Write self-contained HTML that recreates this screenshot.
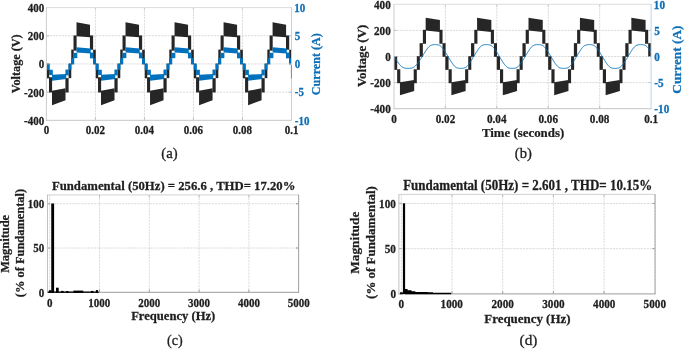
<!DOCTYPE html>
<html><head><meta charset="utf-8"><style>
html,body{margin:0;padding:0;background:#fff;}
svg{display:block;will-change:transform;}
text{font-family:"Liberation Serif", serif;}
</style></head><body>
<svg width="685" height="349" viewBox="0 0 685 349">
<rect width="685" height="349" fill="#fff"/>
<line x1="95.42" y1="7.6" x2="95.42" y2="120.3" stroke="#dcdcdc" stroke-width="1" stroke-dasharray="2.2,0.9"/>
<line x1="144.44" y1="7.6" x2="144.44" y2="120.3" stroke="#dcdcdc" stroke-width="1" stroke-dasharray="2.2,0.9"/>
<line x1="193.46" y1="7.6" x2="193.46" y2="120.3" stroke="#dcdcdc" stroke-width="1" stroke-dasharray="2.2,0.9"/>
<line x1="242.48" y1="7.6" x2="242.48" y2="120.3" stroke="#dcdcdc" stroke-width="1" stroke-dasharray="2.2,0.9"/>
<line x1="46.4" y1="35.77" x2="291.5" y2="35.77" stroke="#dcdcdc" stroke-width="1" stroke-dasharray="2.2,0.9"/>
<line x1="46.4" y1="63.95" x2="291.5" y2="63.95" stroke="#dcdcdc" stroke-width="1" stroke-dasharray="2.2,0.9"/>
<line x1="46.4" y1="92.12" x2="291.5" y2="92.12" stroke="#dcdcdc" stroke-width="1" stroke-dasharray="2.2,0.9"/>
<line x1="445.42" y1="4.3" x2="445.42" y2="108.7" stroke="#dcdcdc" stroke-width="1" stroke-dasharray="2.2,0.9"/>
<line x1="496.84" y1="4.3" x2="496.84" y2="108.7" stroke="#dcdcdc" stroke-width="1" stroke-dasharray="2.2,0.9"/>
<line x1="548.26" y1="4.3" x2="548.26" y2="108.7" stroke="#dcdcdc" stroke-width="1" stroke-dasharray="2.2,0.9"/>
<line x1="599.68" y1="4.3" x2="599.68" y2="108.7" stroke="#dcdcdc" stroke-width="1" stroke-dasharray="2.2,0.9"/>
<line x1="394" y1="30.4" x2="651.1" y2="30.4" stroke="#dcdcdc" stroke-width="1" stroke-dasharray="2.2,0.9"/>
<line x1="394" y1="56.5" x2="651.1" y2="56.5" stroke="#dcdcdc" stroke-width="1" stroke-dasharray="2.2,0.9"/>
<line x1="394" y1="82.6" x2="651.1" y2="82.6" stroke="#dcdcdc" stroke-width="1" stroke-dasharray="2.2,0.9"/>
<line x1="49.7" y1="194.9" x2="49.7" y2="292.3" stroke="#dcdcdc" stroke-width="1" stroke-dasharray="2.2,0.9"/>
<line x1="99.5" y1="194.9" x2="99.5" y2="292.3" stroke="#dcdcdc" stroke-width="1" stroke-dasharray="2.2,0.9"/>
<line x1="149.3" y1="194.9" x2="149.3" y2="292.3" stroke="#dcdcdc" stroke-width="1" stroke-dasharray="2.2,0.9"/>
<line x1="199.1" y1="194.9" x2="199.1" y2="292.3" stroke="#dcdcdc" stroke-width="1" stroke-dasharray="2.2,0.9"/>
<line x1="248.9" y1="194.9" x2="248.9" y2="292.3" stroke="#dcdcdc" stroke-width="1" stroke-dasharray="2.2,0.9"/>
<line x1="298.7" y1="194.9" x2="298.7" y2="292.3" stroke="#dcdcdc" stroke-width="1" stroke-dasharray="2.2,0.9"/>
<line x1="47.5" y1="248.03" x2="298.6" y2="248.03" stroke="#dcdcdc" stroke-width="1" stroke-dasharray="2.2,0.9"/>
<line x1="47.5" y1="203.75" x2="298.6" y2="203.75" stroke="#dcdcdc" stroke-width="1" stroke-dasharray="2.2,0.9"/>
<line x1="401.3" y1="194.4" x2="401.3" y2="293.9" stroke="#dcdcdc" stroke-width="1" stroke-dasharray="2.2,0.9"/>
<line x1="452" y1="194.4" x2="452" y2="293.9" stroke="#dcdcdc" stroke-width="1" stroke-dasharray="2.2,0.9"/>
<line x1="502.7" y1="194.4" x2="502.7" y2="293.9" stroke="#dcdcdc" stroke-width="1" stroke-dasharray="2.2,0.9"/>
<line x1="553.4" y1="194.4" x2="553.4" y2="293.9" stroke="#dcdcdc" stroke-width="1" stroke-dasharray="2.2,0.9"/>
<line x1="604.1" y1="194.4" x2="604.1" y2="293.9" stroke="#dcdcdc" stroke-width="1" stroke-dasharray="2.2,0.9"/>
<line x1="654.8" y1="194.4" x2="654.8" y2="293.9" stroke="#dcdcdc" stroke-width="1" stroke-dasharray="2.2,0.9"/>
<line x1="398.9" y1="248.67" x2="655.1" y2="248.67" stroke="#dcdcdc" stroke-width="1" stroke-dasharray="2.2,0.9"/>
<line x1="398.9" y1="203.45" x2="655.1" y2="203.45" stroke="#dcdcdc" stroke-width="1" stroke-dasharray="2.2,0.9"/>
<clipPath id="ca"><rect x="46.4" y="7.6" width="245.1" height="112.7"/></clipPath>
<g clip-path="url(#ca)">
<rect x="46.75" y="63.65" width="2.45" height="14.7" fill="#262626"/>
<rect x="49" y="77.25" width="3.1" height="15.2" fill="#262626"/>
<polygon points="52,105.15 65.51,100.35 65.51,88.35 52,90.85" fill="#262626"/>
<rect x="65.41" y="78.15" width="3.2" height="14.3" fill="#262626"/>
<rect x="68.61" y="63.65" width="2.65" height="14.5" fill="#262626"/>
<rect x="71.26" y="49.55" width="2.45" height="14.7" fill="#262626"/>
<rect x="73.51" y="35.45" width="3.1" height="15.2" fill="#262626"/>
<polygon points="76.51,22.25 90.02,24.65 90.02,37.35 76.51,36.25" fill="#262626"/>
<rect x="89.92" y="35.45" width="3.2" height="14.3" fill="#262626"/>
<rect x="93.12" y="49.75" width="2.65" height="14.5" fill="#262626"/>
<rect x="95.77" y="63.65" width="2.45" height="14.7" fill="#262626"/>
<rect x="98.02" y="77.25" width="3.1" height="15.2" fill="#262626"/>
<polygon points="101.02,105.15 114.53,100.35 114.53,88.35 101.02,90.85" fill="#262626"/>
<rect x="114.43" y="78.15" width="3.2" height="14.3" fill="#262626"/>
<rect x="117.63" y="63.65" width="2.65" height="14.5" fill="#262626"/>
<rect x="120.28" y="49.55" width="2.45" height="14.7" fill="#262626"/>
<rect x="122.53" y="35.45" width="3.1" height="15.2" fill="#262626"/>
<polygon points="125.53,22.25 139.04,24.65 139.04,37.35 125.53,36.25" fill="#262626"/>
<rect x="138.94" y="35.45" width="3.2" height="14.3" fill="#262626"/>
<rect x="142.14" y="49.75" width="2.65" height="14.5" fill="#262626"/>
<rect x="144.79" y="63.65" width="2.45" height="14.7" fill="#262626"/>
<rect x="147.04" y="77.25" width="3.1" height="15.2" fill="#262626"/>
<polygon points="150.04,105.15 163.55,100.35 163.55,88.35 150.04,90.85" fill="#262626"/>
<rect x="163.45" y="78.15" width="3.2" height="14.3" fill="#262626"/>
<rect x="166.65" y="63.65" width="2.65" height="14.5" fill="#262626"/>
<rect x="169.3" y="49.55" width="2.45" height="14.7" fill="#262626"/>
<rect x="171.55" y="35.45" width="3.1" height="15.2" fill="#262626"/>
<polygon points="174.55,22.25 188.06,24.65 188.06,37.35 174.55,36.25" fill="#262626"/>
<rect x="187.96" y="35.45" width="3.2" height="14.3" fill="#262626"/>
<rect x="191.16" y="49.75" width="2.65" height="14.5" fill="#262626"/>
<rect x="193.81" y="63.65" width="2.45" height="14.7" fill="#262626"/>
<rect x="196.06" y="77.25" width="3.1" height="15.2" fill="#262626"/>
<polygon points="199.06,105.15 212.57,100.35 212.57,88.35 199.06,90.85" fill="#262626"/>
<rect x="212.47" y="78.15" width="3.2" height="14.3" fill="#262626"/>
<rect x="215.67" y="63.65" width="2.65" height="14.5" fill="#262626"/>
<rect x="218.32" y="49.55" width="2.45" height="14.7" fill="#262626"/>
<rect x="220.57" y="35.45" width="3.1" height="15.2" fill="#262626"/>
<polygon points="223.57,22.25 237.08,24.65 237.08,37.35 223.57,36.25" fill="#262626"/>
<rect x="236.98" y="35.45" width="3.2" height="14.3" fill="#262626"/>
<rect x="240.18" y="49.75" width="2.65" height="14.5" fill="#262626"/>
<rect x="242.83" y="63.65" width="2.45" height="14.7" fill="#262626"/>
<rect x="245.08" y="77.25" width="3.1" height="15.2" fill="#262626"/>
<polygon points="248.08,105.15 261.59,100.35 261.59,88.35 248.08,90.85" fill="#262626"/>
<rect x="261.49" y="78.15" width="3.2" height="14.3" fill="#262626"/>
<rect x="264.69" y="63.65" width="2.65" height="14.5" fill="#262626"/>
<rect x="267.34" y="49.55" width="2.45" height="14.7" fill="#262626"/>
<rect x="269.59" y="35.45" width="3.1" height="15.2" fill="#262626"/>
<polygon points="272.59,22.25 286.1,24.65 286.1,37.35 272.59,36.25" fill="#262626"/>
<rect x="286" y="35.45" width="3.2" height="14.3" fill="#262626"/>
<rect x="289.2" y="49.75" width="2.65" height="14.5" fill="#262626"/>
<rect x="46.7" y="63.65" width="3" height="6.4" fill="#0072bd"/>
<rect x="49" y="69.75" width="3.8" height="5.3" fill="#0072bd"/>
<polygon points="52,80.65 66.21,78.95 66.21,73.95 52,74.85" fill="#0072bd"/>
<rect x="65.41" y="69.55" width="3.3" height="5.8" fill="#0072bd"/>
<rect x="68.51" y="63.65" width="2.9" height="6.2" fill="#0072bd"/>
<rect x="71.21" y="57.85" width="3" height="6.4" fill="#0072bd"/>
<rect x="73.51" y="52.85" width="3.8" height="5.3" fill="#0072bd"/>
<polygon points="76.51,47.25 90.72,48.5 90.72,53.4 76.51,52.45" fill="#0072bd"/>
<rect x="89.92" y="52.55" width="3.3" height="5.8" fill="#0072bd"/>
<rect x="93.02" y="58.05" width="2.9" height="6.2" fill="#0072bd"/>
<rect x="95.72" y="63.65" width="3" height="6.4" fill="#0072bd"/>
<rect x="98.02" y="69.75" width="3.8" height="5.3" fill="#0072bd"/>
<polygon points="101.02,80.65 115.23,78.95 115.23,73.95 101.02,74.85" fill="#0072bd"/>
<rect x="114.43" y="69.55" width="3.3" height="5.8" fill="#0072bd"/>
<rect x="117.53" y="63.65" width="2.9" height="6.2" fill="#0072bd"/>
<rect x="120.23" y="57.85" width="3" height="6.4" fill="#0072bd"/>
<rect x="122.53" y="52.85" width="3.8" height="5.3" fill="#0072bd"/>
<polygon points="125.53,47.25 139.74,48.5 139.74,53.4 125.53,52.45" fill="#0072bd"/>
<rect x="138.94" y="52.55" width="3.3" height="5.8" fill="#0072bd"/>
<rect x="142.04" y="58.05" width="2.9" height="6.2" fill="#0072bd"/>
<rect x="144.74" y="63.65" width="3" height="6.4" fill="#0072bd"/>
<rect x="147.04" y="69.75" width="3.8" height="5.3" fill="#0072bd"/>
<polygon points="150.04,80.65 164.25,78.95 164.25,73.95 150.04,74.85" fill="#0072bd"/>
<rect x="163.45" y="69.55" width="3.3" height="5.8" fill="#0072bd"/>
<rect x="166.55" y="63.65" width="2.9" height="6.2" fill="#0072bd"/>
<rect x="169.25" y="57.85" width="3" height="6.4" fill="#0072bd"/>
<rect x="171.55" y="52.85" width="3.8" height="5.3" fill="#0072bd"/>
<polygon points="174.55,47.25 188.76,48.5 188.76,53.4 174.55,52.45" fill="#0072bd"/>
<rect x="187.96" y="52.55" width="3.3" height="5.8" fill="#0072bd"/>
<rect x="191.06" y="58.05" width="2.9" height="6.2" fill="#0072bd"/>
<rect x="193.76" y="63.65" width="3" height="6.4" fill="#0072bd"/>
<rect x="196.06" y="69.75" width="3.8" height="5.3" fill="#0072bd"/>
<polygon points="199.06,80.65 213.27,78.95 213.27,73.95 199.06,74.85" fill="#0072bd"/>
<rect x="212.47" y="69.55" width="3.3" height="5.8" fill="#0072bd"/>
<rect x="215.57" y="63.65" width="2.9" height="6.2" fill="#0072bd"/>
<rect x="218.27" y="57.85" width="3" height="6.4" fill="#0072bd"/>
<rect x="220.57" y="52.85" width="3.8" height="5.3" fill="#0072bd"/>
<polygon points="223.57,47.25 237.78,48.5 237.78,53.4 223.57,52.45" fill="#0072bd"/>
<rect x="236.98" y="52.55" width="3.3" height="5.8" fill="#0072bd"/>
<rect x="240.08" y="58.05" width="2.9" height="6.2" fill="#0072bd"/>
<rect x="242.78" y="63.65" width="3" height="6.4" fill="#0072bd"/>
<rect x="245.08" y="69.75" width="3.8" height="5.3" fill="#0072bd"/>
<polygon points="248.08,80.65 262.29,78.95 262.29,73.95 248.08,74.85" fill="#0072bd"/>
<rect x="261.49" y="69.55" width="3.3" height="5.8" fill="#0072bd"/>
<rect x="264.59" y="63.65" width="2.9" height="6.2" fill="#0072bd"/>
<rect x="267.29" y="57.85" width="3" height="6.4" fill="#0072bd"/>
<rect x="269.59" y="52.85" width="3.8" height="5.3" fill="#0072bd"/>
<polygon points="272.59,47.25 286.8,48.5 286.8,53.4 272.59,52.45" fill="#0072bd"/>
<rect x="286" y="52.55" width="3.3" height="5.8" fill="#0072bd"/>
<rect x="289.1" y="58.05" width="2.9" height="6.2" fill="#0072bd"/>
</g>
<clipPath id="cb"><rect x="394" y="4.3" width="257.1" height="104.4"/></clipPath>
<g clip-path="url(#cb)">
<rect x="393.9" y="56.2" width="3.25" height="13.65" fill="#262626"/>
<rect x="397.15" y="69.25" width="3.15" height="13.95" fill="#262626"/>
<polygon points="399.95,95.3 414.21,91.1 414.21,80.1 399.95,82.2" fill="#262626"/>
<rect x="413.71" y="69.25" width="3.1" height="13.95" fill="#262626"/>
<rect x="416.81" y="56.2" width="3.05" height="13.65" fill="#262626"/>
<rect x="419.61" y="43.15" width="3.25" height="13.65" fill="#262626"/>
<rect x="422.86" y="29.8" width="3.15" height="13.95" fill="#262626"/>
<polygon points="425.66,17.8 439.92,20 439.92,31.9 425.66,30.6" fill="#262626"/>
<rect x="439.42" y="29.8" width="3.1" height="13.95" fill="#262626"/>
<rect x="442.52" y="43.15" width="3.05" height="13.65" fill="#262626"/>
<rect x="445.32" y="56.2" width="3.25" height="13.65" fill="#262626"/>
<rect x="448.57" y="69.25" width="3.15" height="13.95" fill="#262626"/>
<polygon points="451.37,95.3 465.63,91.1 465.63,80.1 451.37,82.2" fill="#262626"/>
<rect x="465.13" y="69.25" width="3.1" height="13.95" fill="#262626"/>
<rect x="468.23" y="56.2" width="3.05" height="13.65" fill="#262626"/>
<rect x="471.03" y="43.15" width="3.25" height="13.65" fill="#262626"/>
<rect x="474.28" y="29.8" width="3.15" height="13.95" fill="#262626"/>
<polygon points="477.08,17.8 491.34,20 491.34,31.9 477.08,30.6" fill="#262626"/>
<rect x="490.84" y="29.8" width="3.1" height="13.95" fill="#262626"/>
<rect x="493.94" y="43.15" width="3.05" height="13.65" fill="#262626"/>
<rect x="496.74" y="56.2" width="3.25" height="13.65" fill="#262626"/>
<rect x="499.99" y="69.25" width="3.15" height="13.95" fill="#262626"/>
<polygon points="502.79,95.3 517.05,91.1 517.05,80.1 502.79,82.2" fill="#262626"/>
<rect x="516.55" y="69.25" width="3.1" height="13.95" fill="#262626"/>
<rect x="519.65" y="56.2" width="3.05" height="13.65" fill="#262626"/>
<rect x="522.45" y="43.15" width="3.25" height="13.65" fill="#262626"/>
<rect x="525.7" y="29.8" width="3.15" height="13.95" fill="#262626"/>
<polygon points="528.5,17.8 542.76,20 542.76,31.9 528.5,30.6" fill="#262626"/>
<rect x="542.26" y="29.8" width="3.1" height="13.95" fill="#262626"/>
<rect x="545.36" y="43.15" width="3.05" height="13.65" fill="#262626"/>
<rect x="548.16" y="56.2" width="3.25" height="13.65" fill="#262626"/>
<rect x="551.41" y="69.25" width="3.15" height="13.95" fill="#262626"/>
<polygon points="554.21,95.3 568.47,91.1 568.47,80.1 554.21,82.2" fill="#262626"/>
<rect x="567.97" y="69.25" width="3.1" height="13.95" fill="#262626"/>
<rect x="571.07" y="56.2" width="3.05" height="13.65" fill="#262626"/>
<rect x="573.87" y="43.15" width="3.25" height="13.65" fill="#262626"/>
<rect x="577.12" y="29.8" width="3.15" height="13.95" fill="#262626"/>
<polygon points="579.92,17.8 594.18,20 594.18,31.9 579.92,30.6" fill="#262626"/>
<rect x="593.68" y="29.8" width="3.1" height="13.95" fill="#262626"/>
<rect x="596.78" y="43.15" width="3.05" height="13.65" fill="#262626"/>
<rect x="599.58" y="56.2" width="3.25" height="13.65" fill="#262626"/>
<rect x="602.83" y="69.25" width="3.15" height="13.95" fill="#262626"/>
<polygon points="605.63,95.3 619.89,91.1 619.89,80.1 605.63,82.2" fill="#262626"/>
<rect x="619.39" y="69.25" width="3.1" height="13.95" fill="#262626"/>
<rect x="622.49" y="56.2" width="3.05" height="13.65" fill="#262626"/>
<rect x="625.29" y="43.15" width="3.25" height="13.65" fill="#262626"/>
<rect x="628.54" y="29.8" width="3.15" height="13.95" fill="#262626"/>
<polygon points="631.34,17.8 645.6,20 645.6,31.9 631.34,30.6" fill="#262626"/>
<rect x="645.1" y="29.8" width="3.1" height="13.95" fill="#262626"/>
<rect x="648.2" y="43.15" width="3.05" height="13.65" fill="#262626"/>
<polyline fill="none" stroke="#0072bd" stroke-width="0.95" stroke-linejoin="round" points="394,56.5 394.37,57.06 394.73,57.62 395.1,58.18 395.47,58.73 395.84,59.28 396.2,59.83 396.57,60.37 396.94,60.9 397.31,61.43 397.67,61.94 398.04,62.45 398.41,62.95 398.77,63.43 399.14,63.9 399.51,64.36 399.88,64.8 400.24,65.21 400.61,65.6 400.98,65.97 401.35,66.3 401.71,66.61 402.08,66.89 402.45,67.13 402.81,67.35 403.18,67.54 403.55,67.7 403.92,67.83 404.28,67.95 404.65,68.05 405.02,68.13 405.39,68.2 405.75,68.25 406.12,68.3 406.49,68.34 406.86,68.36 407.22,68.38 407.59,68.4 407.96,68.4 408.32,68.4 408.69,68.4 409.06,68.38 409.43,68.36 409.79,68.34 410.16,68.3 410.53,68.26 410.9,68.2 411.26,68.14 411.63,68.06 412,67.96 412.36,67.84 412.73,67.71 413.1,67.55 413.47,67.36 413.83,67.15 414.2,66.91 414.57,66.63 414.94,66.33 415.3,65.99 415.67,65.63 416.04,65.24 416.4,64.83 416.77,64.39 417.14,63.94 417.51,63.47 417.87,62.99 418.24,62.49 418.61,61.98 418.98,61.47 419.34,60.94 419.71,60.41 420.08,59.87 420.44,59.32 420.81,58.77 421.18,58.22 421.55,57.66 421.91,57.1 422.28,56.54 422.65,55.93 423.02,55.32 423.38,54.7 423.75,54.1 424.12,53.49 424.48,52.89 424.85,52.3 425.22,51.72 425.59,51.15 425.95,50.59 426.32,50.04 426.69,49.51 427.06,48.99 427.42,48.49 427.79,48.02 428.16,47.58 428.52,47.16 428.89,46.78 429.26,46.44 429.63,46.13 429.99,45.86 430.36,45.62 430.73,45.42 431.1,45.25 431.46,45.11 431.83,44.99 432.2,44.9 432.56,44.82 432.93,44.75 433.3,44.7 433.67,44.66 434.03,44.63 434.4,44.61 434.77,44.6 435.14,44.6 435.5,44.6 435.87,44.61 436.24,44.63 436.61,44.66 436.97,44.7 437.34,44.74 437.71,44.81 438.07,44.88 438.44,44.98 438.81,45.09 439.18,45.23 439.54,45.39 439.91,45.59 440.28,45.82 440.65,46.08 441.01,46.39 441.38,46.73 441.75,47.1 442.11,47.51 442.48,47.95 442.85,48.42 443.22,48.91 443.58,49.42 443.95,49.95 444.32,50.5 444.69,51.06 445.05,51.63 445.42,52.21 445.79,52.8 446.15,53.4 446.52,54 446.89,54.61 447.26,55.22 447.62,55.84 447.99,56.45 448.36,57.07 448.73,57.68 449.09,58.3 449.46,58.9 449.83,59.51 450.19,60.11 450.56,60.7 450.93,61.28 451.3,61.85 451.66,62.41 452.03,62.96 452.4,63.49 452.77,64.01 453.13,64.51 453.5,64.98 453.87,65.42 454.23,65.84 454.6,66.22 454.97,66.56 455.34,66.87 455.7,67.14 456.07,67.38 456.44,67.58 456.81,67.75 457.17,67.89 457.54,68.01 457.91,68.1 458.27,68.18 458.64,68.25 459.01,68.3 459.38,68.34 459.74,68.37 460.11,68.39 460.48,68.4 460.85,68.4 461.21,68.4 461.58,68.39 461.95,68.37 462.32,68.34 462.68,68.3 463.05,68.26 463.42,68.19 463.78,68.12 464.15,68.02 464.52,67.91 464.89,67.77 465.25,67.61 465.62,67.41 465.99,67.18 466.36,66.92 466.72,66.61 467.09,66.27 467.46,65.9 467.82,65.49 468.19,65.05 468.56,64.58 468.93,64.09 469.29,63.58 469.66,63.05 470.03,62.5 470.4,61.94 470.76,61.37 471.13,60.79 471.5,60.2 471.86,59.6 472.23,59 472.6,58.39 472.97,57.78 473.33,57.16 473.7,56.55 474.07,55.93 474.44,55.32 474.8,54.7 475.17,54.1 475.54,53.49 475.9,52.89 476.27,52.3 476.64,51.72 477.01,51.15 477.37,50.59 477.74,50.04 478.11,49.51 478.48,48.99 478.84,48.49 479.21,48.02 479.58,47.58 479.94,47.16 480.31,46.78 480.68,46.44 481.05,46.13 481.41,45.86 481.78,45.62 482.15,45.42 482.52,45.25 482.88,45.11 483.25,44.99 483.62,44.9 483.99,44.82 484.35,44.75 484.72,44.7 485.09,44.66 485.45,44.63 485.82,44.61 486.19,44.6 486.56,44.6 486.92,44.6 487.29,44.61 487.66,44.63 488.03,44.66 488.39,44.7 488.76,44.74 489.13,44.81 489.49,44.88 489.86,44.98 490.23,45.09 490.6,45.23 490.96,45.39 491.33,45.59 491.7,45.82 492.07,46.08 492.43,46.39 492.8,46.73 493.17,47.1 493.53,47.51 493.9,47.95 494.27,48.42 494.64,48.91 495,49.42 495.37,49.95 495.74,50.5 496.11,51.06 496.47,51.63 496.84,52.21 497.21,52.8 497.57,53.4 497.94,54 498.31,54.61 498.68,55.22 499.04,55.84 499.41,56.45 499.78,57.07 500.15,57.68 500.51,58.3 500.88,58.9 501.25,59.51 501.61,60.11 501.98,60.7 502.35,61.28 502.72,61.85 503.08,62.41 503.45,62.96 503.82,63.49 504.19,64.01 504.55,64.51 504.92,64.98 505.29,65.42 505.65,65.84 506.02,66.22 506.39,66.56 506.76,66.87 507.12,67.14 507.49,67.38 507.86,67.58 508.23,67.75 508.59,67.89 508.96,68.01 509.33,68.1 509.69,68.18 510.06,68.25 510.43,68.3 510.8,68.34 511.16,68.37 511.53,68.39 511.9,68.4 512.27,68.4 512.63,68.4 513,68.39 513.37,68.37 513.74,68.34 514.1,68.3 514.47,68.26 514.84,68.19 515.2,68.12 515.57,68.02 515.94,67.91 516.31,67.77 516.67,67.61 517.04,67.41 517.41,67.18 517.78,66.92 518.14,66.61 518.51,66.27 518.88,65.9 519.24,65.49 519.61,65.05 519.98,64.58 520.35,64.09 520.71,63.58 521.08,63.05 521.45,62.5 521.82,61.94 522.18,61.37 522.55,60.79 522.92,60.2 523.28,59.6 523.65,59 524.02,58.39 524.39,57.78 524.75,57.16 525.12,56.55 525.49,55.93 525.86,55.32 526.22,54.7 526.59,54.1 526.96,53.49 527.32,52.89 527.69,52.3 528.06,51.72 528.43,51.15 528.79,50.59 529.16,50.04 529.53,49.51 529.9,48.99 530.26,48.49 530.63,48.02 531,47.58 531.36,47.16 531.73,46.78 532.1,46.44 532.47,46.13 532.83,45.86 533.2,45.62 533.57,45.42 533.94,45.25 534.3,45.11 534.67,44.99 535.04,44.9 535.4,44.82 535.77,44.75 536.14,44.7 536.51,44.66 536.87,44.63 537.24,44.61 537.61,44.6 537.98,44.6 538.34,44.6 538.71,44.61 539.08,44.63 539.45,44.66 539.81,44.7 540.18,44.74 540.55,44.81 540.91,44.88 541.28,44.98 541.65,45.09 542.02,45.23 542.38,45.39 542.75,45.59 543.12,45.82 543.49,46.08 543.85,46.39 544.22,46.73 544.59,47.1 544.95,47.51 545.32,47.95 545.69,48.42 546.06,48.91 546.42,49.42 546.79,49.95 547.16,50.5 547.53,51.06 547.89,51.63 548.26,52.21 548.63,52.8 548.99,53.4 549.36,54 549.73,54.61 550.1,55.22 550.46,55.84 550.83,56.45 551.2,57.07 551.57,57.68 551.93,58.3 552.3,58.9 552.67,59.51 553.03,60.11 553.4,60.7 553.77,61.28 554.14,61.85 554.5,62.41 554.87,62.96 555.24,63.49 555.61,64.01 555.97,64.51 556.34,64.98 556.71,65.42 557.07,65.84 557.44,66.22 557.81,66.56 558.18,66.87 558.54,67.14 558.91,67.38 559.28,67.58 559.65,67.75 560.01,67.89 560.38,68.01 560.75,68.1 561.12,68.18 561.48,68.25 561.85,68.3 562.22,68.34 562.58,68.37 562.95,68.39 563.32,68.4 563.69,68.4 564.05,68.4 564.42,68.39 564.79,68.37 565.16,68.34 565.52,68.3 565.89,68.26 566.26,68.19 566.62,68.12 566.99,68.02 567.36,67.91 567.73,67.77 568.09,67.61 568.46,67.41 568.83,67.18 569.2,66.92 569.56,66.61 569.93,66.27 570.3,65.9 570.66,65.49 571.03,65.05 571.4,64.58 571.77,64.09 572.13,63.58 572.5,63.05 572.87,62.5 573.24,61.94 573.6,61.37 573.97,60.79 574.34,60.2 574.7,59.6 575.07,59 575.44,58.39 575.81,57.78 576.17,57.16 576.54,56.55 576.91,55.93 577.28,55.32 577.64,54.7 578.01,54.1 578.38,53.49 578.74,52.89 579.11,52.3 579.48,51.72 579.85,51.15 580.21,50.59 580.58,50.04 580.95,49.51 581.32,48.99 581.68,48.49 582.05,48.02 582.42,47.58 582.78,47.16 583.15,46.78 583.52,46.44 583.89,46.13 584.25,45.86 584.62,45.62 584.99,45.42 585.36,45.25 585.72,45.11 586.09,44.99 586.46,44.9 586.83,44.82 587.19,44.75 587.56,44.7 587.93,44.66 588.29,44.63 588.66,44.61 589.03,44.6 589.4,44.6 589.76,44.6 590.13,44.61 590.5,44.63 590.87,44.66 591.23,44.7 591.6,44.74 591.97,44.81 592.33,44.88 592.7,44.98 593.07,45.09 593.44,45.23 593.8,45.39 594.17,45.59 594.54,45.82 594.91,46.08 595.27,46.39 595.64,46.73 596.01,47.1 596.37,47.51 596.74,47.95 597.11,48.42 597.48,48.91 597.84,49.42 598.21,49.95 598.58,50.5 598.95,51.06 599.31,51.63 599.68,52.21 600.05,52.8 600.41,53.4 600.78,54 601.15,54.61 601.52,55.22 601.88,55.84 602.25,56.45 602.62,57.07 602.99,57.68 603.35,58.3 603.72,58.9 604.09,59.51 604.45,60.11 604.82,60.7 605.19,61.28 605.56,61.85 605.92,62.41 606.29,62.96 606.66,63.49 607.03,64.01 607.39,64.51 607.76,64.98 608.13,65.42 608.49,65.84 608.86,66.22 609.23,66.56 609.6,66.87 609.96,67.14 610.33,67.38 610.7,67.58 611.07,67.75 611.43,67.89 611.8,68.01 612.17,68.1 612.53,68.18 612.9,68.25 613.27,68.3 613.64,68.34 614,68.37 614.37,68.39 614.74,68.4 615.11,68.4 615.47,68.4 615.84,68.39 616.21,68.37 616.58,68.34 616.94,68.3 617.31,68.26 617.68,68.19 618.04,68.12 618.41,68.02 618.78,67.91 619.15,67.77 619.51,67.61 619.88,67.41 620.25,67.18 620.62,66.92 620.98,66.61 621.35,66.27 621.72,65.9 622.08,65.49 622.45,65.05 622.82,64.58 623.19,64.09 623.55,63.58 623.92,63.05 624.29,62.5 624.66,61.94 625.02,61.37 625.39,60.79 625.76,60.2 626.12,59.6 626.49,59 626.86,58.39 627.23,57.78 627.59,57.16 627.96,56.55 628.33,55.93 628.7,55.32 629.06,54.7 629.43,54.1 629.8,53.49 630.16,52.89 630.53,52.3 630.9,51.72 631.27,51.15 631.63,50.59 632,50.04 632.37,49.51 632.74,48.99 633.1,48.49 633.47,48.02 633.84,47.58 634.2,47.16 634.57,46.78 634.94,46.44 635.31,46.13 635.67,45.86 636.04,45.62 636.41,45.42 636.78,45.25 637.14,45.11 637.51,44.99 637.88,44.9 638.25,44.82 638.61,44.75 638.98,44.7 639.35,44.66 639.71,44.63 640.08,44.61 640.45,44.6 640.82,44.6 641.18,44.6 641.55,44.61 641.92,44.63 642.29,44.66 642.65,44.7 643.02,44.74 643.39,44.81 643.75,44.88 644.12,44.98 644.49,45.09 644.86,45.23 645.22,45.39 645.59,45.59 645.96,45.82 646.33,46.08 646.69,46.39 647.06,46.73 647.43,47.1 647.79,47.51 648.16,47.95 648.53,48.42 648.9,48.91 649.26,49.42 649.63,49.95 650,50.5 650.37,51.06 650.73,51.63 651.1,52.21"/>
</g>
<line x1="45.9" y1="7.6" x2="291.5" y2="7.6" stroke="#dcdcdc" stroke-width="1"/>
<line x1="46.4" y1="7.6" x2="46.4" y2="120.8" stroke="#cdcdcd" stroke-width="1"/>
<line x1="45.9" y1="120.3" x2="291.5" y2="120.3" stroke="#c6c6c6" stroke-width="1"/>
<line x1="291.5" y1="7.1" x2="291.5" y2="120.8" stroke="#b9d5ee" stroke-width="1"/>
<line x1="393.5" y1="4.3" x2="651.1" y2="4.3" stroke="#dcdcdc" stroke-width="1"/>
<line x1="394" y1="4.3" x2="394" y2="109.2" stroke="#cdcdcd" stroke-width="1"/>
<line x1="393.5" y1="108.7" x2="651.1" y2="108.7" stroke="#c6c6c6" stroke-width="1"/>
<line x1="651.1" y1="3.8" x2="651.1" y2="109.2" stroke="#b9d5ee" stroke-width="1"/>
<line x1="47" y1="194.9" x2="299.1" y2="194.9" stroke="#d2d2d2" stroke-width="1"/>
<line x1="47.5" y1="194.9" x2="47.5" y2="292.3" stroke="#c2c2c2" stroke-width="1"/>
<line x1="47" y1="292.3" x2="299.1" y2="292.3" stroke="#9c9c9c" stroke-width="1"/>
<line x1="298.6" y1="194.9" x2="298.6" y2="292.3" stroke="#a4a4a4" stroke-width="1"/>
<line x1="398.4" y1="194.4" x2="655.6" y2="194.4" stroke="#d2d2d2" stroke-width="1"/>
<line x1="398.9" y1="194.4" x2="398.9" y2="293.9" stroke="#c2c2c2" stroke-width="1"/>
<line x1="398.4" y1="293.9" x2="655.6" y2="293.9" stroke="#9c9c9c" stroke-width="1"/>
<line x1="655.1" y1="194.4" x2="655.1" y2="293.9" stroke="#a4a4a4" stroke-width="1"/>
<rect x="51.25" y="203.5" width="2.85" height="89.3" fill="#000"/>
<rect x="47.9" y="291.5" width="50.9" height="1.3" fill="#000"/>
<rect x="48.9" y="290.2" width="2.4" height="2.6" fill="#000"/>
<rect x="56" y="287.7" width="2.7" height="5.1" fill="#000"/>
<rect x="61.1" y="290.9" width="2.5" height="1.9" fill="#000"/>
<rect x="66" y="291" width="2.5" height="1.8" fill="#000"/>
<rect x="73.4" y="290.6" width="9.8" height="2.2" fill="#000"/>
<rect x="91" y="290.9" width="2.4" height="1.9" fill="#000"/>
<rect x="95.9" y="290.1" width="2.1" height="2.7" fill="#000"/>
<rect x="402.9" y="203.3" width="2.2" height="90.7" fill="#000"/>
<rect x="400" y="292.3" width="2.9" height="1.9" fill="#000"/>
<polygon points="404.9,294.2 404.9,288.9 407.6,288.9 407.6,290.2 411.5,290.2 411.5,291.2 415.3,291.2 415.3,291.9 427.6,291.9 427.6,292.3 433,292.3 433,292.7 451.2,292.8 451.2,294.2" fill="#000"/>
<line x1="95.42" y1="117.7" x2="95.42" y2="119.8" stroke="#b4b4b4" stroke-width="0.9"/>
<line x1="95.42" y1="8.1" x2="95.42" y2="10.2" stroke="#c8c8c8" stroke-width="0.9"/>
<line x1="144.44" y1="117.7" x2="144.44" y2="119.8" stroke="#b4b4b4" stroke-width="0.9"/>
<line x1="144.44" y1="8.1" x2="144.44" y2="10.2" stroke="#c8c8c8" stroke-width="0.9"/>
<line x1="193.46" y1="117.7" x2="193.46" y2="119.8" stroke="#b4b4b4" stroke-width="0.9"/>
<line x1="193.46" y1="8.1" x2="193.46" y2="10.2" stroke="#c8c8c8" stroke-width="0.9"/>
<line x1="242.48" y1="117.7" x2="242.48" y2="119.8" stroke="#b4b4b4" stroke-width="0.9"/>
<line x1="242.48" y1="8.1" x2="242.48" y2="10.2" stroke="#c8c8c8" stroke-width="0.9"/>
<line x1="46.9" y1="35.77" x2="49" y2="35.77" stroke="#b4b4b4" stroke-width="0.9"/>
<line x1="288.9" y1="35.77" x2="291" y2="35.77" stroke="#9cc2e4" stroke-width="0.9"/>
<line x1="46.9" y1="63.95" x2="49" y2="63.95" stroke="#b4b4b4" stroke-width="0.9"/>
<line x1="288.9" y1="63.95" x2="291" y2="63.95" stroke="#9cc2e4" stroke-width="0.9"/>
<line x1="46.9" y1="92.12" x2="49" y2="92.12" stroke="#b4b4b4" stroke-width="0.9"/>
<line x1="288.9" y1="92.12" x2="291" y2="92.12" stroke="#9cc2e4" stroke-width="0.9"/>
<line x1="445.42" y1="106.1" x2="445.42" y2="108.2" stroke="#b4b4b4" stroke-width="0.9"/>
<line x1="445.42" y1="4.8" x2="445.42" y2="6.9" stroke="#c8c8c8" stroke-width="0.9"/>
<line x1="496.84" y1="106.1" x2="496.84" y2="108.2" stroke="#b4b4b4" stroke-width="0.9"/>
<line x1="496.84" y1="4.8" x2="496.84" y2="6.9" stroke="#c8c8c8" stroke-width="0.9"/>
<line x1="548.26" y1="106.1" x2="548.26" y2="108.2" stroke="#b4b4b4" stroke-width="0.9"/>
<line x1="548.26" y1="4.8" x2="548.26" y2="6.9" stroke="#c8c8c8" stroke-width="0.9"/>
<line x1="599.68" y1="106.1" x2="599.68" y2="108.2" stroke="#b4b4b4" stroke-width="0.9"/>
<line x1="599.68" y1="4.8" x2="599.68" y2="6.9" stroke="#c8c8c8" stroke-width="0.9"/>
<line x1="394.5" y1="30.4" x2="396.6" y2="30.4" stroke="#b4b4b4" stroke-width="0.9"/>
<line x1="648.5" y1="30.4" x2="650.6" y2="30.4" stroke="#9cc2e4" stroke-width="0.9"/>
<line x1="394.5" y1="56.5" x2="396.6" y2="56.5" stroke="#b4b4b4" stroke-width="0.9"/>
<line x1="648.5" y1="56.5" x2="650.6" y2="56.5" stroke="#9cc2e4" stroke-width="0.9"/>
<line x1="394.5" y1="82.6" x2="396.6" y2="82.6" stroke="#b4b4b4" stroke-width="0.9"/>
<line x1="648.5" y1="82.6" x2="650.6" y2="82.6" stroke="#9cc2e4" stroke-width="0.9"/>
<line x1="99.5" y1="289.7" x2="99.5" y2="291.8" stroke="#8c8c8c" stroke-width="0.9"/>
<line x1="99.5" y1="195.4" x2="99.5" y2="197.5" stroke="#b0b0b0" stroke-width="0.9"/>
<line x1="149.3" y1="289.7" x2="149.3" y2="291.8" stroke="#8c8c8c" stroke-width="0.9"/>
<line x1="149.3" y1="195.4" x2="149.3" y2="197.5" stroke="#b0b0b0" stroke-width="0.9"/>
<line x1="199.1" y1="289.7" x2="199.1" y2="291.8" stroke="#8c8c8c" stroke-width="0.9"/>
<line x1="199.1" y1="195.4" x2="199.1" y2="197.5" stroke="#b0b0b0" stroke-width="0.9"/>
<line x1="248.9" y1="289.7" x2="248.9" y2="291.8" stroke="#8c8c8c" stroke-width="0.9"/>
<line x1="248.9" y1="195.4" x2="248.9" y2="197.5" stroke="#b0b0b0" stroke-width="0.9"/>
<line x1="48" y1="248.03" x2="50.1" y2="248.03" stroke="#9a9a9a" stroke-width="0.9"/>
<line x1="296" y1="248.03" x2="298.1" y2="248.03" stroke="#8c8c8c" stroke-width="0.9"/>
<line x1="48" y1="203.75" x2="50.1" y2="203.75" stroke="#9a9a9a" stroke-width="0.9"/>
<line x1="296" y1="203.75" x2="298.1" y2="203.75" stroke="#8c8c8c" stroke-width="0.9"/>
<line x1="452" y1="291.3" x2="452" y2="293.4" stroke="#8c8c8c" stroke-width="0.9"/>
<line x1="452" y1="194.9" x2="452" y2="197" stroke="#b0b0b0" stroke-width="0.9"/>
<line x1="502.7" y1="291.3" x2="502.7" y2="293.4" stroke="#8c8c8c" stroke-width="0.9"/>
<line x1="502.7" y1="194.9" x2="502.7" y2="197" stroke="#b0b0b0" stroke-width="0.9"/>
<line x1="553.4" y1="291.3" x2="553.4" y2="293.4" stroke="#8c8c8c" stroke-width="0.9"/>
<line x1="553.4" y1="194.9" x2="553.4" y2="197" stroke="#b0b0b0" stroke-width="0.9"/>
<line x1="604.1" y1="291.3" x2="604.1" y2="293.4" stroke="#8c8c8c" stroke-width="0.9"/>
<line x1="604.1" y1="194.9" x2="604.1" y2="197" stroke="#b0b0b0" stroke-width="0.9"/>
<line x1="399.4" y1="248.67" x2="401.5" y2="248.67" stroke="#9a9a9a" stroke-width="0.9"/>
<line x1="652.5" y1="248.67" x2="654.6" y2="248.67" stroke="#8c8c8c" stroke-width="0.9"/>
<line x1="399.4" y1="203.45" x2="401.5" y2="203.45" stroke="#9a9a9a" stroke-width="0.9"/>
<line x1="652.5" y1="203.45" x2="654.6" y2="203.45" stroke="#8c8c8c" stroke-width="0.9"/>
<rect x="290.9" y="65" width="1" height="13.5" fill="#8a8a8a"/>
<text transform="translate(27.67,12.04) scale(1,1.1)" font-size="11" font-weight="bold" fill="#1e1e1e" stroke="#1e1e1e" stroke-width="0.25">400</text>
<text transform="translate(27.67,40.21) scale(1,1.1)" font-size="11" font-weight="bold" fill="#1e1e1e" stroke="#1e1e1e" stroke-width="0.25">200</text>
<text transform="translate(38.67,68.39) scale(1,1.1)" font-size="11" font-weight="bold" fill="#1e1e1e" stroke="#1e1e1e" stroke-width="0.25">0</text>
<text transform="translate(24.05,96.56) scale(1,1.1)" font-size="11" font-weight="bold" fill="#1e1e1e" stroke="#1e1e1e" stroke-width="0.25">-200</text>
<text transform="translate(24.05,124.74) scale(1,1.1)" font-size="11" font-weight="bold" fill="#1e1e1e" stroke="#1e1e1e" stroke-width="0.25">-400</text>
<text transform="translate(294.23,12.04) scale(1,1.1)" font-size="11" font-weight="bold" fill="#0c6fb8" stroke="#0c6fb8" stroke-width="0.25">10</text>
<text transform="translate(294.73,40.14) scale(1,1.1)" font-size="11" font-weight="bold" fill="#0c6fb8" stroke="#0c6fb8" stroke-width="0.25">5</text>
<text transform="translate(294.73,68.39) scale(1,1.1)" font-size="11" font-weight="bold" fill="#0c6fb8" stroke="#0c6fb8" stroke-width="0.25">0</text>
<text transform="translate(294.73,96.49) scale(1,1.1)" font-size="11" font-weight="bold" fill="#0c6fb8" stroke="#0c6fb8" stroke-width="0.25">-5</text>
<text transform="translate(294.73,124.74) scale(1,1.1)" font-size="11" font-weight="bold" fill="#0c6fb8" stroke="#0c6fb8" stroke-width="0.25">-10</text>
<text transform="translate(43.65,133.89) scale(1,1.1)" font-size="11" font-weight="bold" fill="#1e1e1e" stroke="#1e1e1e" stroke-width="0.25">0</text>
<text transform="translate(85.86,133.89) scale(1,1.1)" font-size="11" font-weight="bold" fill="#1e1e1e" stroke="#1e1e1e" stroke-width="0.25">0.02</text>
<text transform="translate(134.75,133.89) scale(1,1.1)" font-size="11" font-weight="bold" fill="#1e1e1e" stroke="#1e1e1e" stroke-width="0.25">0.04</text>
<text transform="translate(183.77,133.89) scale(1,1.1)" font-size="11" font-weight="bold" fill="#1e1e1e" stroke="#1e1e1e" stroke-width="0.25">0.06</text>
<text transform="translate(232.85,133.89) scale(1,1.1)" font-size="11" font-weight="bold" fill="#1e1e1e" stroke="#1e1e1e" stroke-width="0.25">0.08</text>
<text transform="translate(284.69,133.89) scale(1,1.1)" font-size="11" font-weight="bold" fill="#1e1e1e" stroke="#1e1e1e" stroke-width="0.25">0.1</text>
<text transform="translate(374.02,8.86) scale(1,1.1)" font-size="11.2" font-weight="bold" fill="#1e1e1e" stroke="#1e1e1e" stroke-width="0.25">400</text>
<text transform="translate(374.02,34.96) scale(1,1.1)" font-size="11.2" font-weight="bold" fill="#1e1e1e" stroke="#1e1e1e" stroke-width="0.25">200</text>
<text transform="translate(385.27,61.06) scale(1,1.1)" font-size="11.2" font-weight="bold" fill="#1e1e1e" stroke="#1e1e1e" stroke-width="0.25">0</text>
<text transform="translate(370.27,87.16) scale(1,1.1)" font-size="11.2" font-weight="bold" fill="#1e1e1e" stroke="#1e1e1e" stroke-width="0.25">-200</text>
<text transform="translate(370.27,113.26) scale(1,1.1)" font-size="11.2" font-weight="bold" fill="#1e1e1e" stroke="#1e1e1e" stroke-width="0.25">-400</text>
<text transform="translate(653.83,8.86) scale(1,1.1)" font-size="11.2" font-weight="bold" fill="#0c6fb8" stroke="#0c6fb8" stroke-width="0.25">10</text>
<text transform="translate(654.33,34.89) scale(1,1.1)" font-size="11.2" font-weight="bold" fill="#0c6fb8" stroke="#0c6fb8" stroke-width="0.25">5</text>
<text transform="translate(654.33,61.06) scale(1,1.1)" font-size="11.2" font-weight="bold" fill="#0c6fb8" stroke="#0c6fb8" stroke-width="0.25">0</text>
<text transform="translate(654.33,87.09) scale(1,1.1)" font-size="11.2" font-weight="bold" fill="#0c6fb8" stroke="#0c6fb8" stroke-width="0.25">-5</text>
<text transform="translate(654.33,113.26) scale(1,1.1)" font-size="11.2" font-weight="bold" fill="#0c6fb8" stroke="#0c6fb8" stroke-width="0.25">-10</text>
<text transform="translate(391.25,123.46) scale(1,1.1)" font-size="11.2" font-weight="bold" fill="#1e1e1e" stroke="#1e1e1e" stroke-width="0.25">0</text>
<text transform="translate(435.67,123.46) scale(1,1.1)" font-size="11.2" font-weight="bold" fill="#1e1e1e" stroke="#1e1e1e" stroke-width="0.25">0.02</text>
<text transform="translate(486.97,123.46) scale(1,1.1)" font-size="11.2" font-weight="bold" fill="#1e1e1e" stroke="#1e1e1e" stroke-width="0.25">0.04</text>
<text transform="translate(538.45,123.46) scale(1,1.1)" font-size="11.2" font-weight="bold" fill="#1e1e1e" stroke="#1e1e1e" stroke-width="0.25">0.06</text>
<text transform="translate(589.87,123.46) scale(1,1.1)" font-size="11.2" font-weight="bold" fill="#1e1e1e" stroke="#1e1e1e" stroke-width="0.25">0.08</text>
<text transform="translate(644.16,123.46) scale(1,1.1)" font-size="11.2" font-weight="bold" fill="#1e1e1e" stroke="#1e1e1e" stroke-width="0.25">0.1</text>
<text transform="translate(20.38,93.23) scale(1,1.01) rotate(-90)" font-size="12.1" font-weight="bold" fill="#1e1e1e" stroke="#1e1e1e" stroke-width="0.25">Voltage (V)</text>
<text transform="translate(320.24,95.13) scale(1,1) rotate(-90)" font-size="12.1" font-weight="bold" fill="#0c6fb8" stroke="#0c6fb8" stroke-width="0.25">Current (A)</text>
<text transform="translate(366.3,87.03) scale(1,1.01) rotate(-90)" font-size="12.8" font-weight="bold" fill="#1e1e1e" stroke="#1e1e1e" stroke-width="0.25">Voltage (V)</text>
<text transform="translate(681.31,93.65) scale(1,1.04) rotate(-90)" font-size="12.8" font-weight="bold" fill="#0c6fb8" stroke="#0c6fb8" stroke-width="0.25">Current (A)</text>
<text transform="translate(481.95,136.93) scale(0.99,1)" font-size="13" font-weight="bold" fill="#1e1e1e" stroke="#1e1e1e" stroke-width="0.25">Time (seconds)</text>
<text transform="translate(161.27,158.09) scale(1.01,1)" font-size="14.6" font-weight="normal" fill="#1e1e1e" stroke="#1e1e1e" stroke-width="0.3">(a)</text>
<text transform="translate(514.77,157.68) scale(1,0.97)" font-size="14.6" font-weight="normal" fill="#1e1e1e" stroke="#1e1e1e" stroke-width="0.3">(b)</text>
<text transform="translate(167.09,344.79) scale(0.97,1)" font-size="14.6" font-weight="normal" fill="#1e1e1e" stroke="#1e1e1e" stroke-width="0.3">(c)</text>
<text transform="translate(519.54,344.79) scale(1.05,1)" font-size="14.6" font-weight="normal" fill="#1e1e1e" stroke="#1e1e1e" stroke-width="0.3">(d)</text>
<text transform="translate(38.73,296.69) scale(1,1.1)" font-size="11" font-weight="bold" fill="#1e1e1e" stroke="#1e1e1e" stroke-width="0.25">0</text>
<text transform="translate(33.23,252.41) scale(1,1.1)" font-size="11" font-weight="bold" fill="#1e1e1e" stroke="#1e1e1e" stroke-width="0.25">50</text>
<text transform="translate(27.73,208.14) scale(1,1.1)" font-size="11" font-weight="bold" fill="#1e1e1e" stroke="#1e1e1e" stroke-width="0.25">100</text>
<text transform="translate(46.95,306.69) scale(1,1.1)" font-size="11" font-weight="bold" fill="#1e1e1e" stroke="#1e1e1e" stroke-width="0.25">0</text>
<text transform="translate(88.25,306.69) scale(1,1.1)" font-size="11" font-weight="bold" fill="#1e1e1e" stroke="#1e1e1e" stroke-width="0.25">1000</text>
<text transform="translate(138.24,306.69) scale(1,1.1)" font-size="11" font-weight="bold" fill="#1e1e1e" stroke="#1e1e1e" stroke-width="0.25">2000</text>
<text transform="translate(188.1,306.69) scale(1,1.1)" font-size="11" font-weight="bold" fill="#1e1e1e" stroke="#1e1e1e" stroke-width="0.25">3000</text>
<text transform="translate(238.02,306.69) scale(1,1.1)" font-size="11" font-weight="bold" fill="#1e1e1e" stroke="#1e1e1e" stroke-width="0.25">4000</text>
<text transform="translate(287.7,306.69) scale(1,1.1)" font-size="11" font-weight="bold" fill="#1e1e1e" stroke="#1e1e1e" stroke-width="0.25">5000</text>
<text transform="translate(390.38,298.46) scale(1,1.1)" font-size="11.2" font-weight="bold" fill="#1e1e1e" stroke="#1e1e1e" stroke-width="0.25">0</text>
<text transform="translate(384.75,253.23) scale(1,1.1)" font-size="11.2" font-weight="bold" fill="#1e1e1e" stroke="#1e1e1e" stroke-width="0.25">50</text>
<text transform="translate(379.12,208) scale(1,1.1)" font-size="11.2" font-weight="bold" fill="#1e1e1e" stroke="#1e1e1e" stroke-width="0.25">100</text>
<text transform="translate(398.55,308.06) scale(1,1.1)" font-size="11.2" font-weight="bold" fill="#1e1e1e" stroke="#1e1e1e" stroke-width="0.25">0</text>
<text transform="translate(440.56,308.06) scale(1,1.1)" font-size="11.2" font-weight="bold" fill="#1e1e1e" stroke="#1e1e1e" stroke-width="0.25">1000</text>
<text transform="translate(491.45,308.06) scale(1,1.1)" font-size="11.2" font-weight="bold" fill="#1e1e1e" stroke="#1e1e1e" stroke-width="0.25">2000</text>
<text transform="translate(542.21,308.06) scale(1,1.1)" font-size="11.2" font-weight="bold" fill="#1e1e1e" stroke="#1e1e1e" stroke-width="0.25">3000</text>
<text transform="translate(593.04,308.06) scale(1,1.1)" font-size="11.2" font-weight="bold" fill="#1e1e1e" stroke="#1e1e1e" stroke-width="0.25">4000</text>
<text transform="translate(643.61,308.06) scale(1,1.1)" font-size="11.2" font-weight="bold" fill="#1e1e1e" stroke="#1e1e1e" stroke-width="0.25">5000</text>
<text transform="translate(51.95,190.27) scale(1.01,1.05)" font-size="12.6" font-weight="bold" fill="#1e1e1e" stroke="#1e1e1e" stroke-width="0.25">Fundamental (50Hz) = 256.6 , THD= 17.20%</text>
<text transform="translate(403.15,189.78) scale(1.01,1.05)" font-size="12.9" font-weight="bold" fill="#1e1e1e" stroke="#1e1e1e" stroke-width="0.25">Fundamental (50Hz) = 2.601 , THD= 10.15%</text>
<text transform="translate(8.97,272.85) scale(1,1.01) rotate(-90)" font-size="12.3" font-weight="bold" fill="#1e1e1e" stroke="#1e1e1e" stroke-width="0.25">Magnitude</text>
<text transform="translate(24.35,297.2) scale(1,1.01) rotate(-90)" font-size="12.3" font-weight="bold" fill="#1e1e1e" stroke="#1e1e1e" stroke-width="0.25">(% of Fundamental)</text>
<text transform="translate(359,273.76) scale(1,1.04) rotate(-90)" font-size="12.8" font-weight="bold" fill="#1e1e1e" stroke="#1e1e1e" stroke-width="0.25">Magnitude</text>
<text transform="translate(375.02,298.9) scale(1,1.01) rotate(-90)" font-size="12.8" font-weight="bold" fill="#1e1e1e" stroke="#1e1e1e" stroke-width="0.25">(% of Fundamental)</text>
<text transform="translate(131.15,320.29) scale(1.01,1)" font-size="12.5" font-weight="bold" fill="#1e1e1e" stroke="#1e1e1e" stroke-width="0.25">Frequency (Hz)</text>
<text transform="translate(484.25,322.56) scale(1.01,1)" font-size="12.8" font-weight="bold" fill="#1e1e1e" stroke="#1e1e1e" stroke-width="0.25">Frequency (Hz)</text>
</svg>
</body></html>
